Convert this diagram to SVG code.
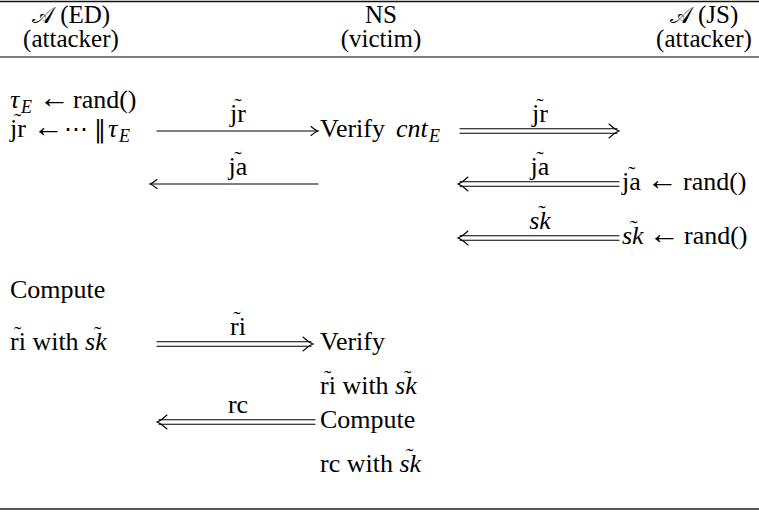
<svg xmlns="http://www.w3.org/2000/svg" xmlns:xlink="http://www.w3.org/1999/xlink" width="759" height="515" viewBox="0 0 759 515">
  <style>
    .t { font-family: "Liberation Serif", "DejaVu Serif", serif; font-size: 26px; fill: #000; }
    .h { font-size: 25px; }
    .c { text-anchor: middle; }
    .it { font-style: italic; }
    .sub { font-size: 18px; font-style: italic; }
    .cal { font-family: "DejaVu Sans", "Liberation Serif", serif; font-style: normal; font-size: 23px; }
    .ar { font-size: 31px; }
    .sym { font-family: "DejaVu Serif", serif; font-size: 24px; }
    .tl { font-size: 22px; font-style: normal; }
    .ln { stroke: #000; stroke-width: 1.1; fill: none; stroke-linecap: round; }
    .top { stroke: #111; stroke-width: 1.6; }
    .mid { stroke: #555; stroke-width: 1.3; }
    .bot { stroke: #555; stroke-width: 1.8; }
  </style>
  <defs>
    <!-- single-stroke arrowhead, tip at origin, pointing right -->
    <path id="h1" class="ln" d="M-7,-4.5 Q-3,-1 0,0 Q-3,1 -7,4.5"/>
    <!-- double-stroke (implication) arrowhead, tip at origin, pointing right -->
    <path id="h2" class="ln" d="M-10,-7 Q-4,-1.5 0,0 Q-4,1.5 -10,7"/>
  </defs>

  <rect width="759" height="515" fill="#fff"/>

  <!-- table rules -->
  <line class="top" x1="0" y1="1.5" x2="759" y2="1.5"/>
  <line class="mid" x1="0" y1="57" x2="759" y2="57"/>
  <line class="bot" x1="0" y1="509" x2="759" y2="509"/>

  <!-- column headers -->
  <g id="hdr-ed">
    <text class="t h c" x="71" y="23"><tspan class="cal">𝒜</tspan> (ED)</text>
    <text class="t h c" x="71" y="47">(attacker)</text>
  </g>
  <g id="hdr-ns">
    <text class="t h c" x="381" y="23">NS</text>
    <text class="t h c" x="381" y="47">(victim)</text>
  </g>
  <g id="hdr-js">
    <text class="t h c" x="704" y="23"><tspan class="cal">𝒜</tspan> (JS)</text>
    <text class="t h c" x="704" y="47">(attacker)</text>
  </g>

  <!-- ED column -->
  <g id="ed-tau">
    <text class="t" x="10" y="108"><tspan class="it">τ</tspan><tspan class="sub" x="21" dy="5">E</tspan><tspan class="ar" x="39" dy="-5">←</tspan><tspan x="73">rand()</tspan></text>
  </g>
  <g id="ed-jr">
    <text class="t" x="10" y="137">jr<tspan class="ar" x="33">←</tspan><tspan class="sym" x="64">⋯</tspan><tspan class="sym" x="94">‖</tspan><tspan class="it" x="108">τ</tspan><tspan class="sub" x="119" dy="5">E</tspan><tspan class="tl" x="14" dy="-14">˜</tspan></text>
  </g>
  <g id="ed-compute">
    <text class="t" x="10" y="298">Compute</text>
    <text class="t" x="10" y="350">ri with <tspan class="it">sk</tspan><tspan class="tl" x="14" dy="-9">˜</tspan><tspan class="tl" x="94">˜</tspan></text>
  </g>

  <!-- NS column -->
  <g id="ns-verify-cnt">
    <text class="t" x="320" y="137">Verify<tspan class="it" x="396">cnt</tspan><tspan class="sub" x="429" dy="5">E</tspan></text>
  </g>
  <g id="ns-verify-ri">
    <text class="t" x="320" y="350">Verify</text>
    <text class="t" x="320" y="394">ri with <tspan class="it">sk</tspan><tspan class="tl" x="324" dy="-9">˜</tspan><tspan class="tl" x="404">˜</tspan></text>
  </g>
  <g id="ns-compute-rc">
    <text class="t" x="320" y="428">Compute</text>
    <text class="t" x="320" y="472">rc with <tspan class="it">sk</tspan><tspan class="tl" x="406" dy="-9">˜</tspan></text>
  </g>

  <!-- JS column -->
  <g id="js-ja">
    <text class="t" x="622" y="190">ja<tspan class="ar" x="647">←</tspan><tspan x="683">rand()</tspan><tspan class="tl" x="628" dy="-9">˜</tspan></text>
  </g>
  <g id="js-sk">
    <text class="t" x="622" y="244"><tspan class="it">sk</tspan><tspan class="ar" x="649">←</tspan><tspan x="684">rand()</tspan><tspan class="tl" x="630" dy="-9">˜</tspan></text>
  </g>

  <!-- message arrows -->
  <g id="connectors">
    <!-- jr: ED -> NS -->
    <line class="ln" x1="157" y1="131" x2="317" y2="131"/>
    <use xlink:href="#h1" transform="translate(318,131)"/>
    <text class="t c" x="238" y="122">jr<tspan class="tl" x="238" dy="-9">˜</tspan></text>

    <!-- jr: NS => JS -->
    <line class="ln" x1="460" y1="128.8" x2="617" y2="128.8"/>
    <line class="ln" x1="460" y1="133.2" x2="617" y2="133.2"/>
    <use xlink:href="#h2" transform="translate(619,131)"/>
    <text class="t c" x="540" y="122">jr<tspan class="tl" x="540" dy="-9">˜</tspan></text>

    <!-- ja: NS -> ED -->
    <line class="ln" x1="151" y1="184" x2="318" y2="184"/>
    <use xlink:href="#h1" transform="translate(150,184) scale(-1,1)"/>
    <text class="t c" x="238" y="175">ja<tspan class="tl" x="238" dy="-9">˜</tspan></text>

    <!-- ja: JS => NS -->
    <line class="ln" x1="460" y1="181.8" x2="619" y2="181.8"/>
    <line class="ln" x1="460" y1="186.2" x2="619" y2="186.2"/>
    <use xlink:href="#h2" transform="translate(458,184) scale(-1,1)"/>
    <text class="t c" x="540" y="175">ja<tspan class="tl" x="540" dy="-9">˜</tspan></text>

    <!-- sk: JS => NS -->
    <line class="ln" x1="460" y1="235.8" x2="619" y2="235.8"/>
    <line class="ln" x1="460" y1="240.2" x2="619" y2="240.2"/>
    <use xlink:href="#h2" transform="translate(458,238) scale(-1,1)"/>
    <text class="t c" x="540" y="229"><tspan class="it">sk</tspan><tspan class="tl" x="542" dy="-9">˜</tspan></text>

    <!-- ri: ED => NS -->
    <line class="ln" x1="157" y1="341.8" x2="311" y2="341.8"/>
    <line class="ln" x1="157" y1="346.2" x2="311" y2="346.2"/>
    <use xlink:href="#h2" transform="translate(313,344)"/>
    <text class="t c" x="238" y="335">ri<tspan class="tl" x="237" dy="-9">˜</tspan></text>

    <!-- rc: NS => ED -->
    <line class="ln" x1="159" y1="419.8" x2="315" y2="419.8"/>
    <line class="ln" x1="159" y1="424.2" x2="315" y2="424.2"/>
    <use xlink:href="#h2" transform="translate(157,422) scale(-1,1)"/>
    <text class="t c" x="238" y="413">rc</text>
  </g>
</svg>
